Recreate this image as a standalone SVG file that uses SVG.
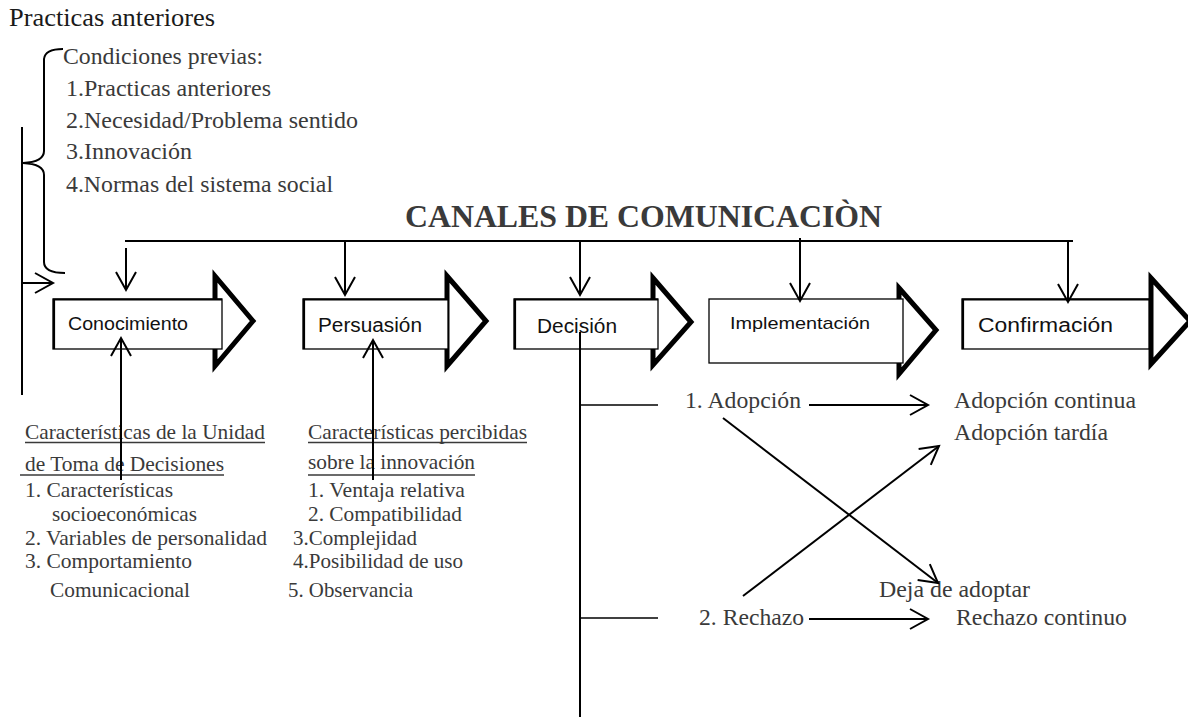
<svg xmlns="http://www.w3.org/2000/svg" width="1188" height="717" viewBox="0 0 1188 717">
<defs>
<style>
.serif{font-family:"Liberation Serif","Times New Roman",serif;fill:#3a3a3a}
.top{font-size:24px}
.col{font-size:21.5px}
.out{font-size:24px}
.sans{font-family:"Liberation Sans",Arial,sans-serif;fill:#111}
.head{fill:#fff;stroke:#000;stroke-width:5;stroke-linejoin:miter;stroke-miterlimit:10}
.box{fill:#fff;stroke:#000;stroke-width:1.3}
.edge{fill:none;stroke:#000;stroke-width:2.2}
.ln{fill:none;stroke:#000;stroke-width:2}
.thin{fill:none;stroke:#000;stroke-width:1.6}
.ul{stroke:#3a3a3a;stroke-width:1.3}
.arr{marker-end:url(#ah)}
</style>
<marker id="ah" markerUnits="userSpaceOnUse" markerWidth="2" markerHeight="2" refX="0" refY="0" orient="auto" overflow="visible">
<path d="M-18,-10 L0,0 L-18,10" fill="none" stroke="#000" stroke-width="2"/>
</marker>
</defs>
<rect width="1188" height="717" fill="#fff"/>

<g id="label-practicas">
<text class="serif" x="9" y="26" font-size="25" style="fill:#1a1a1a" textLength="206" lengthAdjust="spacingAndGlyphs">Practicas anteriores</text>
</g>

<g id="condiciones-previas">
<text class="serif top" x="63" y="64" textLength="200" lengthAdjust="spacingAndGlyphs">Condiciones previas:</text>
<text class="serif top" x="66" y="96" textLength="205" lengthAdjust="spacingAndGlyphs">1.Practicas anteriores</text>
<text class="serif top" x="66" y="128" textLength="292" lengthAdjust="spacingAndGlyphs">2.Necesidad/Problema sentido</text>
<text class="serif top" x="66" y="159" textLength="126" lengthAdjust="spacingAndGlyphs">3.Innovación</text>
<text class="serif top" x="66" y="192" textLength="267" lengthAdjust="spacingAndGlyphs">4.Normas del sistema social</text>
</g>

<g id="title">
<text class="serif" x="405" y="227" font-size="32" font-weight="bold" textLength="477" lengthAdjust="spacingAndGlyphs">CANALES DE COMUNICACIÒN</text>
</g>

<g id="node-conocimiento">
<polygon class="head" points="215,276 253,321 215,366"/>
<rect class="box" x="53" y="299" width="169" height="50"/>
<path class="edge" d="M54,349 V299.5 H222"/>
<text class="sans" x="68" y="330" font-size="18" textLength="120" lengthAdjust="spacingAndGlyphs">Conocimiento</text>
</g>

<g id="node-persuasion">
<polygon class="head" points="447,276 486,321 447,366"/>
<rect class="box" x="303" y="299" width="145" height="50"/>
<path class="edge" d="M304,349 V299.5 H448"/>
<text class="sans" x="318" y="332" font-size="20" textLength="104" lengthAdjust="spacingAndGlyphs">Persuasión</text>
</g>

<g id="node-decision">
<polygon class="head" points="653,278 691,322 653,365"/>
<rect class="box" x="514" y="299" width="144" height="50"/>
<path class="edge" d="M515,349 V299.5 H658"/>
<text class="sans" x="537" y="333" font-size="20" textLength="80" lengthAdjust="spacingAndGlyphs">Decisión</text>
</g>

<g id="node-implementacion">
<polygon class="head" points="899,288 936,330 899,374"/>
<rect class="box" x="709" y="299" width="194" height="64"/>
<text class="sans" x="730" y="329" font-size="17" textLength="140" lengthAdjust="spacingAndGlyphs">Implementación</text>
</g>

<g id="node-confirmacion">
<polygon class="head" points="1151,278 1190,321 1151,364"/>
<rect class="box" x="962" y="299" width="187" height="50"/>
<path class="edge" d="M963,349 V299.5 H1149"/>
<text class="sans" x="978" y="332" font-size="20" textLength="135" lengthAdjust="spacingAndGlyphs">Confirmación</text>
</g>

<g id="caracteristicas-unidad">
<text class="serif col" x="25" y="439" textLength="240" lengthAdjust="spacingAndGlyphs">Características de la Unidad</text>
<line class="ul" x1="25" y1="442.5" x2="265" y2="442.5"/>
<text class="serif col" x="25" y="471" textLength="199" lengthAdjust="spacingAndGlyphs">de Toma de Decisiones</text>
<line class="ul" x1="20" y1="475" x2="224" y2="475"/>
<text class="serif col" x="25" y="497" textLength="148" lengthAdjust="spacingAndGlyphs">1. Características</text>
<text class="serif col" x="52" y="521" textLength="145" lengthAdjust="spacingAndGlyphs">socioeconómicas</text>
<text class="serif col" x="25" y="545" textLength="242" lengthAdjust="spacingAndGlyphs">2. Variables de personalidad</text>
<text class="serif col" x="25" y="568" textLength="167" lengthAdjust="spacingAndGlyphs">3. Comportamiento</text>
<text class="serif col" x="50" y="597" textLength="140" lengthAdjust="spacingAndGlyphs">Comunicacional</text>
</g>

<g id="caracteristicas-innovacion">
<text class="serif col" x="308" y="439" textLength="219" lengthAdjust="spacingAndGlyphs">Características percibidas</text>
<line class="ul" x1="308" y1="442.5" x2="527" y2="442.5"/>
<text class="serif col" x="308" y="469" textLength="167" lengthAdjust="spacingAndGlyphs">sobre la innovación</text>
<line class="ul" x1="308" y1="475" x2="475" y2="475"/>
<text class="serif col" x="308" y="497" textLength="157" lengthAdjust="spacingAndGlyphs">1. Ventaja relativa</text>
<text class="serif col" x="308" y="521" textLength="154" lengthAdjust="spacingAndGlyphs">2. Compatibilidad</text>
<text class="serif col" x="293" y="545" textLength="124" lengthAdjust="spacingAndGlyphs">3.Complejidad</text>
<text class="serif col" x="293" y="568" textLength="170" lengthAdjust="spacingAndGlyphs">4.Posibilidad de uso</text>
<text class="serif col" x="288" y="597" textLength="125" lengthAdjust="spacingAndGlyphs">5. Observancia</text>
</g>

<g id="node-adopcion"><text class="serif out" x="685" y="408" textLength="116" lengthAdjust="spacingAndGlyphs">1. Adopción</text></g>
<g id="node-rechazo"><text class="serif out" x="699" y="625" textLength="105" lengthAdjust="spacingAndGlyphs">2. Rechazo</text></g>
<g id="node-adopcion-continua"><text class="serif out" x="954" y="408" textLength="182" lengthAdjust="spacingAndGlyphs">Adopción continua</text></g>
<g id="node-adopcion-tardia"><text class="serif out" x="954" y="440" textLength="154" lengthAdjust="spacingAndGlyphs">Adopción tardía</text></g>
<g id="node-deja-de-adoptar"><text class="serif out" x="879" y="597" textLength="151" lengthAdjust="spacingAndGlyphs">Deja de adoptar</text></g>
<g id="node-rechazo-continuo"><text class="serif out" x="956" y="625" textLength="171" lengthAdjust="spacingAndGlyphs">Rechazo continuo</text></g>

<g id="connectors">
<path class="ln" d="M63,49 Q45,49 44,59 L44,151 Q44,162 23,163 Q44,164 44,175 L44,262 Q44,273 65,273"/>
<line class="ln" x1="22" y1="127" x2="22" y2="395"/>
<line class="ln arr" x1="22" y1="283" x2="53" y2="283"/>
<line class="ln" x1="125" y1="241" x2="1073" y2="241"/>
<line class="ln arr" x1="126" y1="248" x2="126" y2="290"/>
<line class="ln arr" x1="345" y1="241" x2="345" y2="295"/>
<line class="ln arr" x1="580" y1="241" x2="580" y2="295"/>
<line class="ln arr" x1="800" y1="238" x2="800" y2="301"/>
<line class="ln arr" x1="1068" y1="240" x2="1068" y2="302"/>
<line class="ln arr" x1="121" y1="480" x2="121" y2="338"/>
<line class="ln arr" x1="373" y1="480" x2="373" y2="340"/>
<line class="ln" x1="580" y1="332" x2="580" y2="717"/>
<line class="thin" x1="580" y1="405" x2="658" y2="405"/>
<line class="thin" x1="580" y1="618" x2="658" y2="618"/>
<line class="ln arr" x1="809" y1="405" x2="928" y2="405"/>
<line class="ln arr" x1="809" y1="619" x2="928" y2="619"/>
<line class="ln arr" x1="723" y1="418" x2="938" y2="583"/>
<line class="ln arr" x1="743" y1="596" x2="939" y2="446"/>
</g>
</svg>
